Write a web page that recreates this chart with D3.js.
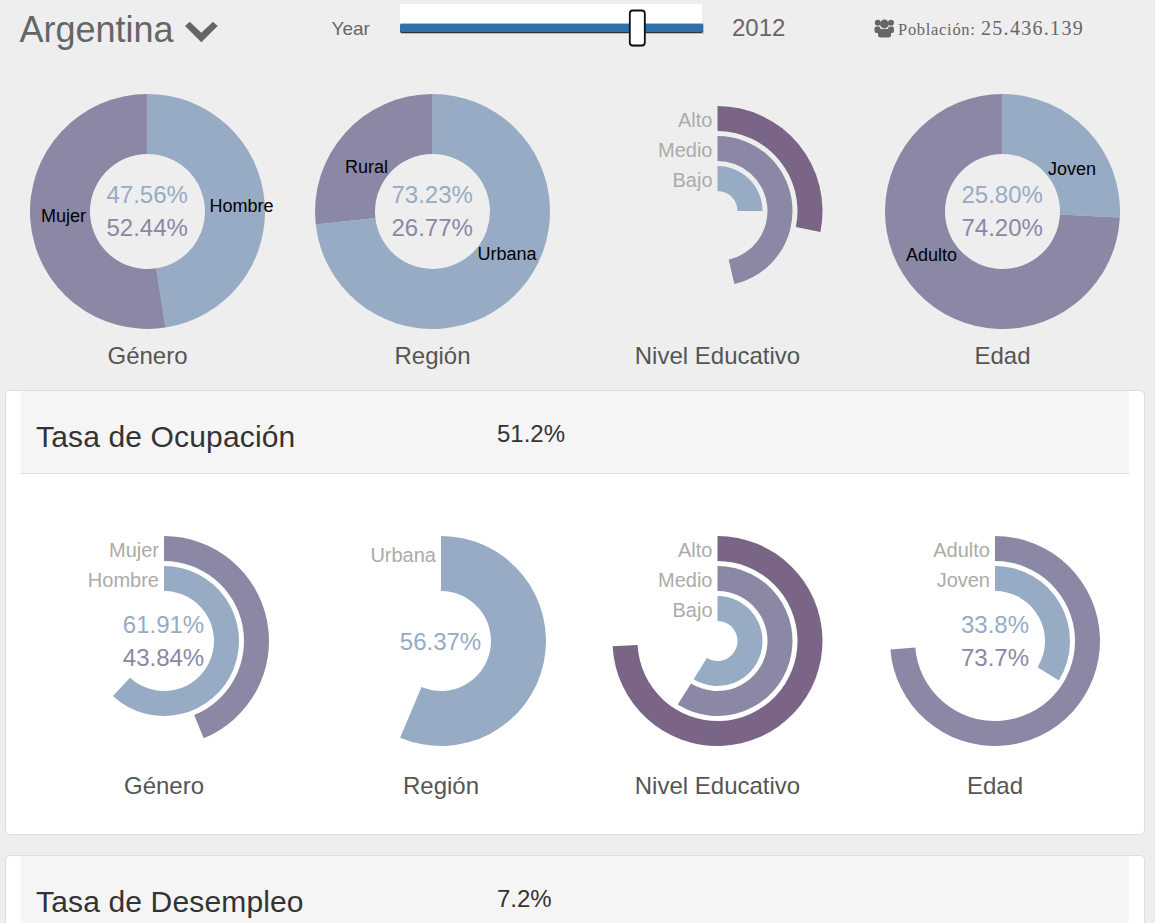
<!DOCTYPE html>
<html><head><meta charset="utf-8">
<script src="https://cdn.jsdelivr.net/npm/d3@7"></script>
<style>html,body{margin:0;padding:0;background:#eee;overflow:hidden}svg{display:block}text{font-family:"Liberation Sans",Arial,sans-serif}</style>
</head><body><svg id="c" width="1155" height="923"></svg>
<script>
const country = "Argentina", yearLabel = "Year", selectedYear = 2012, yearDomain = [2004, 2014];
const populationLabel = "Población:", populationValue = "25.436.139";

const groupTitles = ["Género", "Región", "Nivel Educativo", "Edad"];

// Top row: composition
const generoLabels = ["Hombre", "Mujer"], generoShare = [47.56, 52.44];
const regionLabels = ["Urbana", "Rural"], regionShare = [73.23, 26.77];
const edadLabels = ["Joven", "Adulto"], edadShare = [25.80, 74.20];
const nivelLabels = ["Alto", "Medio", "Bajo"], nivelShare = [28.2, 46.4, 25.0];

// Tasa de Ocupación
const panel1Title = "Tasa de Ocupación", panel1Rate = "51.2%";
const ocupGeneroLabels = ["Mujer", "Hombre"], ocupGenero = [43.84, 61.91];
const ocupRegionLabels = ["Urbana"], ocupRegion = [56.37];
const ocupNivelLabels = ["Alto", "Medio", "Bajo"], ocupNivel = [74.2, 58.9, 58.9];
const ocupEdadLabels = ["Adulto", "Joven"], ocupEdad = [73.7, 33.8];
const ocupEdadText = ["33.8%", "73.7%"];

// Tasa de Desempleo
const panel2Title = "Tasa de Desempleo", panel2Rate = "7.2%";

const C = {blue:"#97abc4", mid:"#8a88a5", dark:"#7b6586", grey:"#adaaa8", title:"#555", dark2:"#333"};
const svg = d3.select("#c");
const angle = d3.scaleLinear().domain([0,100]).range([0,2*Math.PI]);
const arc = d3.arc();
const ringOuter = d3.scaleOrdinal().domain([0,1,2]).range([105,75,45]);
const RING = 25;

function txt(g,x,y,s,size,fill,anchor="middle"){
  return g.append("text").attr("x",x).attr("y",y).attr("font-size",size).attr("fill",fill).attr("text-anchor",anchor).text(s);
}

/* header */
const head = svg.append("g");
txt(head,19.5,42,country,36,"#666","start");
head.append("path").attr("d","M185 26 L189.7 21.7 L201.3 32.7 L213 21.7 L217.7 26 L201.3 42.3 Z").attr("fill","#666");
txt(head,331.5,34.5,yearLabel,19,"#666","start");
const slider = d3.scaleLinear().domain(yearDomain).range([408,694]);
head.append("rect").attr("x",400).attr("y",4).attr("width",302).attr("height",19).attr("fill","#fff");
head.append("rect").attr("x",400).attr("y",23).attr("width",304).attr("height",11).attr("rx",2).attr("fill","#bbb");
head.append("rect").attr("x",400).attr("y",24).attr("width",303).attr("height",9).attr("rx",2).attr("fill","#333");
head.append("rect").attr("x",400).attr("y",24).attr("width",303).attr("height",8).attr("rx",2).attr("fill","#3071a9");
const hx = slider(selectedYear);
head.append("rect").attr("x",hx-7.5).attr("y",10).attr("width",16).attr("height",36.5).attr("rx",4).attr("fill","#999");
head.append("rect").attr("x",hx-7).attr("y",10.5).attr("width",15).attr("height",35).attr("rx",3).attr("fill","#fff").attr("stroke","#111").attr("stroke-width",1.8);
txt(head,732,36,selectedYear,24,"#666","start");
const ic = head.append("g").attr("fill","#666");
[[877.8,22.8,3],[891,22.8,3],[884.4,24,4.4]].forEach(d=>ic.append("circle").attr("cx",d[0]).attr("cy",d[1]).attr("r",d[2]));
ic.append("rect").attr("x",874.5).attr("y",26.5).attr("width",6).attr("height",6.5).attr("rx",2);
ic.append("rect").attr("x",888).attr("y",26.5).attr("width",6).attr("height",6.5).attr("rx",2);
ic.append("rect").attr("x",878).attr("y",29).attr("width",13).attr("height",8.5).attr("rx",2.5);
txt(head,898,35,populationLabel,16.5,"#666","start").style("font-family","'Liberation Serif',serif").attr("letter-spacing",.7);
txt(head,981,35,populationValue,20,"#666","start").style("font-family","'Liberation Serif',serif").attr("letter-spacing",1.3);

/* full pies */
function pie(g,cx,cy,labels,values,colors,labelPos){
  const p = g.append("g").attr("transform",`translate(${cx},${cy})`);
  let a0 = 0;
  values.forEach((v,i)=>{
    const a1 = a0+v;
    p.append("path").attr("fill",colors[i]).attr("d",arc({innerRadius:57.5,outerRadius:117.5,startAngle:angle(a0),endAngle:angle(a1)}));
    a0 = a1;
  });
  txt(p,-.3,-8.5,values[0].toFixed(2)+"%",24,C.blue);
  txt(p,-.3,24.5,values[1].toFixed(2)+"%",24,C.mid);
  labels.forEach((l,i)=>txt(p,labelPos[i][0],labelPos[i][1],l,18,"#000"));
}
const topRow = svg.append("g");
pie(topRow,147.5,211.5,generoLabels,generoShare,[C.blue,C.mid],[[94,0.5],[-84,10.5]]);
pie(topRow,432.5,211.5,regionLabels,regionShare,[C.blue,C.mid],[[74.5,48.5],[-66,-38.5]]);
pie(topRow,1002.5,211.5,edadLabels,edadShare,[C.blue,C.mid],[[69.5,-36.5],[-71,49.5]]);

/* concentric rings */
function rings(g,cx,cy,labels,values,colors,opts={}){
  const p = g.append("g").attr("transform",`translate(${cx},${cy})`);
  labels.forEach((l,i)=>{
    const outer = ringOuter(i);
    p.append("path").attr("fill",colors[i]).attr("d",arc({
      innerRadius:opts.inner||outer-RING, outerRadius:outer, startAngle:0, endAngle:angle(values[i])}));
    txt(p,-5,-outer+(opts.labelDy||21),l,20,C.grey,"end");
  });
}
const ringColors3 = [C.dark,C.mid,C.blue], ringColors2=[C.mid,C.blue];
rings(topRow,717.5,211,nivelLabels,nivelShare,ringColors3);

/* column titles */
[147.5,432.5,717.5,1002.5].forEach((x,i)=>txt(topRow,x,364,groupTitles[i],24,"#555"));

/* panel */
function panel(y,h,title,rate){
  const g = svg.append("g");
  g.append("rect").attr("x",5.5).attr("y",y+.5).attr("width",1139).attr("height",h).attr("rx",4).attr("fill","#fff").attr("stroke","#ddd");
  g.append("rect").attr("x",21).attr("y",y+1).attr("width",1108).attr("height",82).attr("fill","#f5f5f5");
  g.append("line").attr("x1",21).attr("x2",1129).attr("y1",y+83.5).attr("y2",y+83.5).attr("stroke","#ddd");
  txt(g,36,y+57,title,30,C.dark2,"start").attr("letter-spacing",.15);
  txt(g,497,y+51.5,rate,24,C.dark2,"start");
  return g;
}
const p1 = panel(390,444,panel1Title,panel1Rate);
panel(855,120,panel2Title,panel2Rate);

rings(p1,164,641,ocupGeneroLabels,ocupGenero,ringColors2);
rings(p1,441,641,ocupRegionLabels,ocupRegion,[C.blue],{inner:50,labelDy:26});
rings(p1,717.5,641,ocupNivelLabels,ocupNivel,ringColors3);
rings(p1,995,641,ocupEdadLabels,ocupEdad,ringColors2);

txt(p1,163.5,633,ocupGenero[1].toFixed(2)+"%",24,C.blue);
txt(p1,163.5,666,ocupGenero[0].toFixed(2)+"%",24,C.mid);
txt(p1,440.5,650,ocupRegion[0].toFixed(2)+"%",24,C.blue);
txt(p1,995,633,ocupEdadText[0],24,C.blue);
txt(p1,995,666,ocupEdadText[1],24,C.mid);

[164,441,717.5,995].forEach((x,i)=>txt(p1,x,794,groupTitles[i],24,"#555"));
</script></body></html>
